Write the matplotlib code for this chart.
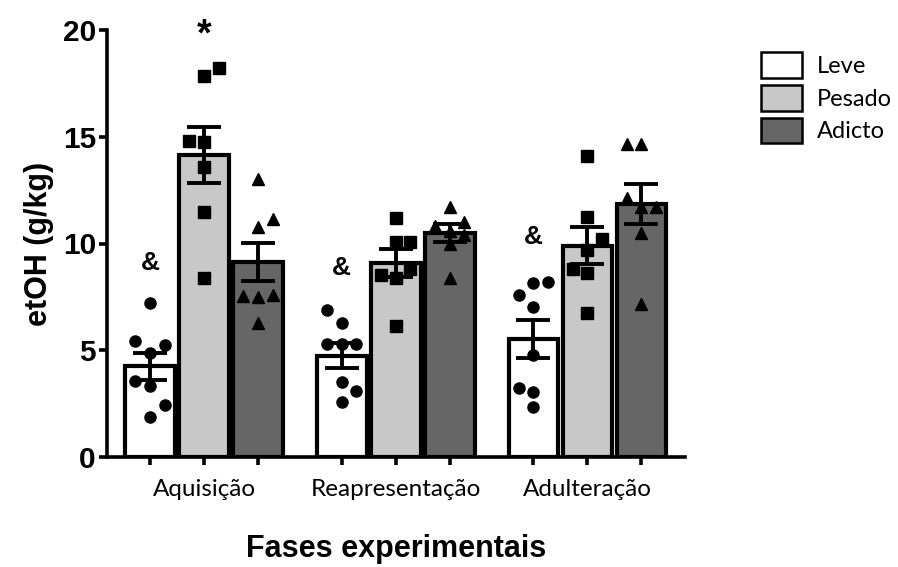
import numpy as np
import matplotlib
matplotlib.use("Agg")
import matplotlib.pyplot as plt
from matplotlib.patches import Patch

phases = ["Aquisição", "Reapresentação", "Adulteração"]
groups = ["Leve", "Pesado", "Adicto"]
colors = ["#ffffff", "#c8c8c8", "#666666"]
markers = ["o", "s", "^"]

# bar means and SEM, rows = phase, cols = group
means = [[4.25, 14.15, 9.13],
         [4.75, 9.07, 10.50],
         [5.53, 9.90, 11.85]]
sems = [[0.63, 1.30, 0.90],
        [0.57, 0.65, 0.42],
        [0.89, 0.88, 0.96]]

# individual animals
leve_aq = [7.2, 5.43, 5.25, 4.87, 3.56, 3.33, 2.44, 1.87]
pesado_aq = [18.2, 17.85, 14.8, 14.75, 13.58, 11.47, 8.38]
adicto_aq = [13.0, 11.15, 10.77, 7.6, 7.54, 7.5, 6.28]
leve_re = [6.89, 6.28, 5.29, 5.29, 5.29, 3.51, 3.09, 2.58]
pesado_re = [11.19, 10.07, 10.07, 8.8, 8.52, 8.38, 6.14]
adicto_re = [11.7, 11.0, 10.8, 10.6, 10.4, 10.0, 8.4]
leve_ad = [8.2, 8.15, 7.59, 7.03, 4.78, 3.23, 3.04, 2.34]
pesado_ad = [14.1, 11.24, 10.21, 9.7, 8.8, 8.62, 6.74]
adicto_ad = [14.66, 14.66, 12.13, 11.7, 11.7, 10.49, 7.17]

# jitter column of each point (-1 left, 0 middle, 1 right)
leve_aq_col = [0, -1, 1, 0, -1, 0, 1, 0]
pesado_aq_col = [1, 0, -1, 0, 0, 0, 0]
adicto_aq_col = [0, 1, 0, 1, -1, 0, 0]
leve_re_col = [-1, 0, -1, 0, 1, 0, 1, 0]
pesado_re_col = [0, 0, 1, 1, -1, 0, 0]
adicto_re_col = [0, 1, -1, 0, 1, 0, 0]
leve_ad_col = [1, 0, -1, 0, 0, -1, 0, 0]
pesado_ad_col = [0, 0, 1, 0, -1, 0, 0]
adicto_ad_col = [-1, 0, -1, 0, 1, 0, 0]

points = [[(leve_aq, leve_aq_col), (pesado_aq, pesado_aq_col), (adicto_aq, adicto_aq_col)],
          [(leve_re, leve_re_col), (pesado_re, pesado_re_col), (adicto_re, adicto_re_col)],
          [(leve_ad, leve_ad_col), (pesado_ad, pesado_ad_col), (adicto_ad, adicto_ad_col)]]

# significance marks: (phase, group, y, symbol)
marks = [(0, 0, 9.1, "&"), (1, 0, 8.85, "&"), (2, 0, 10.3, "&"), (0, 1, 19.75, "*")]

bold_font = "Liberation Sans"
light_font = "Lato"

fig = plt.figure(figsize=(8.98, 5.67), dpi=100)
ax = fig.add_axes([107/898, 110/567, 578/898, 427/567])

group_gap = 3.55
spread = 0.27
width = 0.92

tick_pos = []
tick_lab = []
for p in range(3):
    center = p * group_gap
    for g in range(3):
        x = center + (g - 1)
        ax.bar(x, means[p][g], width=width, color=colors[g], edgecolor="black",
               linewidth=3.0, zorder=2)
        ax.errorbar(x, means[p][g], yerr=sems[p][g], fmt="none", ecolor="black",
                    elinewidth=2.8, capsize=12, capthick=2.8, zorder=3)
        vals, cols = points[p][g]
        xs = x + np.array(cols) * spread
        ax.plot(xs, vals, linestyle="none", marker=markers[g], color="black",
                markersize=8 if g != 2 else 8.5, zorder=4)
        tick_pos.append(x)
        tick_lab.append(phases[p] if g == 1 else "")

for p, g, y, s in marks:
    x = p * group_gap + (g - 1)
    size = 19 if s == "&" else 27
    ax.text(x, y, s, ha="center", va="center", fontsize=size, fontweight="bold",
            family=bold_font)

ax.set_xlim(-1.796, 8.907)
ax.set_ylim(0, 20)
ax.set_yticks([0, 5, 10, 15, 20])
ax.set_xticks(tick_pos)
ax.set_xticklabels(tick_lab, fontsize=17.5, family=light_font)
for lab in ax.get_yticklabels():
    lab.set_fontsize(21.5)
    lab.set_fontweight("bold")
    lab.set_family(bold_font)

ax.spines["top"].set_visible(False)
ax.spines["right"].set_visible(False)
ax.spines["left"].set_linewidth(2.6)
ax.spines["bottom"].set_linewidth(2.6)
ax.tick_params(axis="both", width=2.6, length=6, direction="out")
ax.tick_params(axis="x", pad=10)
ax.tick_params(axis="y", pad=2)

ax.set_ylabel("etOH (g/kg)", fontsize=22, fontweight="bold", family=bold_font, labelpad=6)
ax.set_xlabel("Fases experimentais", fontsize=22, fontweight="bold", family=bold_font,
              labelpad=24)

handles = [Patch(facecolor=c, edgecolor="black", linewidth=1.8) for c in colors]
fig.legend(handles, groups, loc="upper left", bbox_to_anchor=(761/898, 1 - 52/567),
           frameon=False, prop={"family": light_font, "size": 17},
           handlelength=1.75, handleheight=1.3, labelspacing=0.3, handletextpad=0.6,
           borderpad=0, borderaxespad=0)

fig.savefig("out.png", dpi=100)
